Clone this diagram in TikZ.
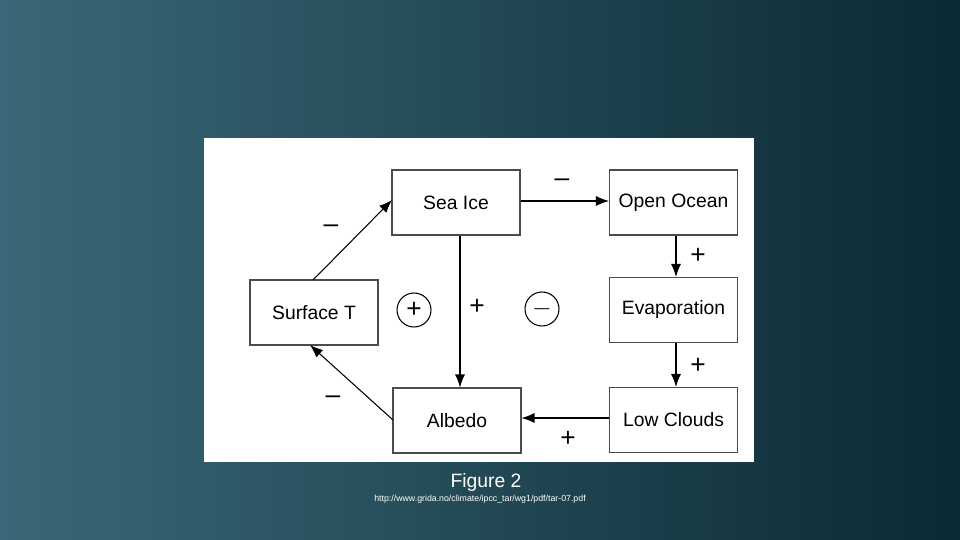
\documentclass[tikz,border=0pt]{standalone}
\usepackage{fontspec}
\setmainfont{Liberation Sans}
\usetikzlibrary{arrows.meta}
\definecolor{bgl}{HTML}{3A6878}
\definecolor{bgr}{HTML}{0B2A33}
\tikzset{
  box/.style={draw=black!70, line width=0.6pt, minimum width=2.56cm, minimum height=1.3cm, inner sep=0pt, font=\fontsize{11}{12}\selectfont},
  arr/.style={-{Latex[length=2.6mm,width=2mm]}, line width=0.6pt},
  sgn/.style={font=\fontsize{15}{15}\selectfont},
  circ/.style={circle, draw, line width=0.6pt, minimum size=0.68cm, inner sep=0pt, font=\fontsize{15}{15}\selectfont}
}
\begin{document}
\begin{tikzpicture}[x=0.02cm,y=-0.02cm]
\useasboundingbox (0,0) rectangle (960,540);
\shade[left color=bgl, right color=bgr] (0,0) rectangle (960,540);
\fill[white] (204,138) rectangle (754,462);
\node[box] (sea) at (456,202.5) {Sea Ice};
\node[box] (ocean) at (673.5,202.5) {Open Ocean};
\node[box] (surf) at (314,312.5) {Surface T};
\node[box] (evap) at (673.5,310) {Evaporation};
\node[box] (alb) at (457,420.5) {Albedo};
\node[box] (low) at (673.5,420) {Low Clouds};
\coordinate (s1) at (313,280); \coordinate (s2) at (392,200);
\draw[arr] (s1) -- (s2);
\coordinate (a1) at (393,420); \coordinate (a2) at (310,345);
\draw[arr] (a1) -- (a2);
\draw[arr] (sea.east |- 0,201) -- (ocean.west |- 0,201);
\draw[arr] (sea.south -| 460,0) -- (alb.north -| 460,0);
\draw[arr] (ocean.south -| 676,0) -- (evap.north -| 676,0);
\draw[arr] (evap.south -| 676,0) -- (low.north -| 676,0);
\draw[arr] (low.west |- 0,418) -- (alb.east |- 0,418);
\node[circ] (cp) at (414,310) {+};
\node[circ] (cm) at (542,309) {$-$};
\node[sgn] (m1) at (331,229) {--};
\node[sgn] (m2) at (562,183) {--};
\node[sgn] (m3) at (333,400) {--};
\node[sgn] (p1) at (698,256) {+};
\node[sgn] (p2) at (698,366) {+};
\node[sgn] (p3) at (568,439) {+};
\node[sgn] (p4) at (477,307) {+};
\node[white, font=\fontsize{11}{12}\selectfont] (cap) at (486,483) {Figure 2};
\node[white, font=\fontsize{5}{6}\selectfont] (url) at (480,499) {http://www.grida.no/climate/ipcc\_tar/wg1/pdf/tar-07.pdf};
\end{tikzpicture}
\end{document}
